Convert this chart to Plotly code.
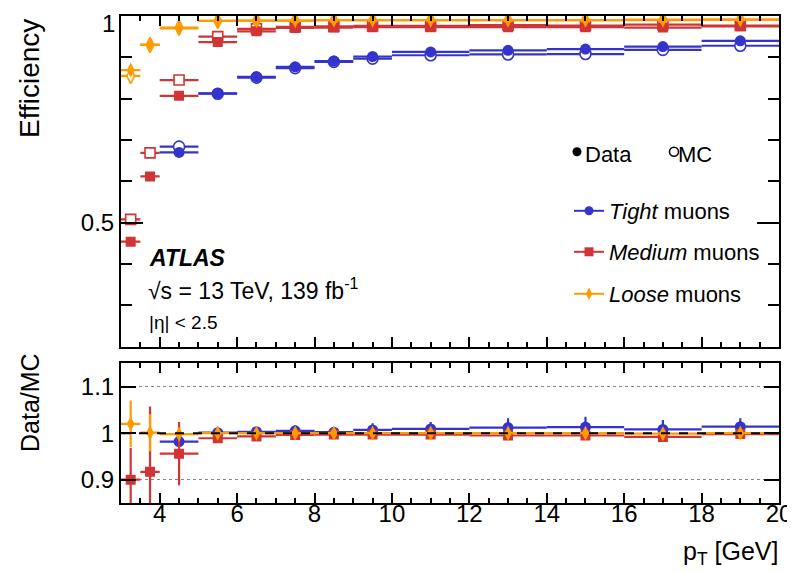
import numpy as np
import plotly.graph_objects as go

# ---------------- data ----------------
pt_lo = [3.0, 3.5, 4.0, 5.0, 6.0, 7.0, 8.0, 9.0, 10.0, 12.0, 14.0, 16.0, 18.0]
pt_hi = [3.5, 4.0, 5.0, 6.0, 7.0, 8.0, 9.0, 10.0, 12.0, 14.0, 16.0, 18.0, 20.0]

tight_data = [None, None, 0.670, 0.813, 0.853, 0.877, 0.891, 0.902, 0.913, 0.917, 0.920, 0.926, 0.940]
tight_mc = [None, None, 0.684, 0.812, 0.851, 0.874, 0.889, 0.897, 0.905, 0.907, 0.908, 0.918, 0.928]
tight_ratio = [None, None, 0.982, 1.001, 1.003, 1.005, 1.002, 1.007, 1.009, 1.012, 1.013, 1.008, 1.014]
tight_ratio_err = [None, None, 0.006, 0.004, 0.005, 0.012, 0.008, 0.014, 0.015, 0.020, 0.022, 0.020, 0.018]

medium_data = [0.454, 0.612, 0.807, 0.937, 0.963, 0.971, 0.972, 0.973, 0.973, 0.973, 0.973, 0.972, 0.975]
medium_mc = [0.508, 0.669, 0.845, 0.950, 0.969, 0.974, 0.975, 0.976, 0.976, 0.978, 0.977, 0.979, 0.977]
medium_ratio = [0.900, 0.917, 0.956, 0.989, 0.993, 0.996, 0.997, 0.997, 0.997, 0.995, 0.995, 0.992, 0.998]
medium_ratio_err = [0.068, 0.140, 0.068, 0.006, 0.005, 0.004, 0.004, 0.004, 0.004, 0.005, 0.005, 0.006, 0.005]

loose_data = [0.869, 0.931, 0.970, 0.988, 0.989, 0.989, 0.990, 0.990, 0.990, 0.990, 0.990, 0.990, 0.991]
loose_mc = [0.855, 0.930, 0.972, 0.988, 0.989, 0.989, 0.990, 0.990, 0.990, 0.990, 0.990, 0.991, 0.991]
loose_ratio = [1.020, 1.001, 0.998, 1.000, 1.000, 1.000, 1.000, 1.000, 1.000, 1.000, 1.000, 0.999, 1.000]
loose_ratio_err = [0.050, 0.040, 0.005, 0.003, 0.003, 0.003, 0.003, 0.003, 0.003, 0.003, 0.003, 0.003, 0.003]

x_ticks = [4, 6, 8, 10, 12, 14, 16, 18, 20]
eff_ticks = [0.5, 1.0]
eff_ticktext = ["0.5", ""]      # the top label "1" is drawn just inside the frame (ROOT style)
eff_top_label = "1"
ratio_ticks = [0.9, 1.0, 1.1]
ratio_ticktext = ["0.9", "1", "1.1"]

# ---------------- styles ----------------
BLUE = "#3434cc"
RED = "#d03434"
ORANGE = "#ff9a00"
FONT = "Liberation Sans, Arial, sans-serif"
LOOSE_SYM = "diamond-tall"

lo = np.array(pt_lo)
hi = np.array(pt_hi)
centers = (lo + hi) / 2
halfw = (hi - lo) / 2

fig = go.Figure()


def add_series(y, color, symbol, size, filled, xa, ya, yerr=None):
    y = [np.nan if v is None else v for v in y]
    marker = dict(symbol=symbol, size=size,
                  color=color if filled else "white",
                  line=dict(color=color, width=1.6 if not filled else 0))
    kw = dict(x=centers, y=y, mode="markers", marker=marker,
              error_x=dict(type="data", array=halfw, visible=True, color=color, thickness=2.2, width=0),
              xaxis=xa, yaxis=ya, showlegend=False, hoverinfo="skip")
    if yerr is not None:
        yerr = [np.nan if v is None else v for v in yerr]
        kw["error_y"] = dict(type="data", array=yerr, visible=True, color=color, thickness=2.2, width=0)
    fig.add_trace(go.Scatter(**kw))


# top panel: MC (open) first, then data (filled)
add_series(tight_mc, BLUE, "circle", 11, False, "x", "y")
add_series(medium_mc, RED, "square", 10, False, "x", "y")
add_series(loose_mc, ORANGE, LOOSE_SYM, 11, False, "x", "y")
add_series(tight_data, BLUE, "circle", 11, True, "x", "y")
add_series(medium_data, RED, "square", 10, True, "x", "y")
add_series(loose_data, ORANGE, LOOSE_SYM, 11, True, "x", "y")

# ratio panel
add_series(tight_ratio, BLUE, "circle", 11, True, "x2", "y2", tight_ratio_err)
add_series(medium_ratio, RED, "square", 10, True, "x2", "y2", medium_ratio_err)
add_series(loose_ratio, ORANGE, LOOSE_SYM, 11, True, "x2", "y2", loose_ratio_err)

# legend entries (Data / MC keys: symbols via legend, labels as annotations)
fig.add_trace(go.Scatter(x=[None], y=[None], mode="markers", name=" ",
                         marker=dict(symbol="circle", size=9, color="black"),
                         legend="legend", xaxis="x", yaxis="y"))
fig.add_trace(go.Scatter(x=[None], y=[None], mode="markers", name=" ",
                         marker=dict(symbol="circle", size=9, color="white", line=dict(color="black", width=1.5)),
                         legend="legend5", xaxis="x", yaxis="y"))
for name, color, sym, leg in [("<i>Tight</i> muons", BLUE, "circle", "legend2"),
                              ("<i>Medium</i> muons", RED, "square", "legend3"),
                              ("<i>Loose</i> muons", ORANGE, LOOSE_SYM, "legend4")]:
    fig.add_trace(go.Scatter(x=[None], y=[None], mode="lines+markers", name=name,
                             line=dict(color=color, width=2),
                             marker=dict(symbol=sym, size=9, color=color),
                             legend=leg, xaxis="x", yaxis="y"))

# page has an 8px body margin: figure is drawn 8px right/down
OFF = 8
W, H = 795 - OFF, 573 - OFF
PL, PR, PT, PB = 121, 779, 16, 503  # plot area in page pixels
L, R, T, B = PL - OFF, (W + OFF) - PR, PT - OFF, (H + OFF) - PB
ph = PB - PT
pw = PR - PL


def py(pix):
    return (PB - pix) / ph


def px(pix):
    return (pix - PL) / pw


axis_common = dict(showline=True, linecolor="black", linewidth=2, mirror="ticks",
                   ticks="inside", tickcolor="black", tickwidth=2, zeroline=False,
                   showgrid=False, ticklabeloverflow="allow", automargin=False,
                   tickfont=dict(family=FONT, size=24, color="black"))

leg_common = dict(font=dict(family=FONT, size=22, color="black"), bgcolor="rgba(0,0,0,0)",
                  itemwidth=30, xanchor="left", yanchor="middle", borderwidth=0)

fig.update_layout(
    width=W, height=H, margin=dict(l=L, r=R, t=T, b=B, autoexpand=False),
    paper_bgcolor="white", plot_bgcolor="white",
    font=dict(family=FONT, size=22, color="black"),
    xaxis=dict(domain=[0, 1], anchor="y", range=[3, 20], tickvals=x_ticks, showticklabels=False,
               ticklen=10, minor=dict(dtick=0.5, tick0=3, ticklen=5, ticks="inside", tickcolor="black", tickwidth=1.5),
               **axis_common),
    yaxis=dict(domain=[py(346.7), 1], anchor="x", range=[0.2, 1.0], tickvals=eff_ticks, ticktext=eff_ticktext,
               ticklen=22, minor=dict(dtick=0.1, tick0=0, ticklen=11, ticks="inside", tickcolor="black", tickwidth=1.5),
               **axis_common),
    xaxis2=dict(domain=[0, 1], anchor="y2", range=[3, 20], tickvals=x_ticks, ticktext=[str(v) for v in x_ticks],
                ticklen=10, ticklabelstandoff=-12,
                minor=dict(dtick=0.5, tick0=3, ticklen=5, ticks="inside", tickcolor="black", tickwidth=1.5),
                **axis_common),
    yaxis2=dict(domain=[0, py(363.3)], anchor="x2", range=[0.85, 1.15], tickvals=ratio_ticks,
                ticktext=ratio_ticktext, ticklen=15,
                **{k: v for k, v in axis_common.items() if k != "showgrid"},
                showgrid=True, gridcolor="#888888", griddash="dot", gridwidth=1),
    legend=dict(x=px(557), y=py(152), **leg_common),
    legend5=dict(x=px(654), y=py(152), **leg_common),
    legend2=dict(x=px(569), y=py(211), **leg_common),
    legend3=dict(x=px(569), y=py(252), **leg_common),
    legend4=dict(x=px(569), y=py(294), **leg_common),
)

# dashed line at unity in the ratio panel
fig.add_shape(type="line", xref="x2", yref="y2", x0=3, x1=20, y0=1, y1=1,
              line=dict(color="black", width=2, dash="dash"), layer="above")

ann = [
    dict(text="Data", x=px(583), y=py(155), size=22),
    dict(text="MC", x=px(676), y=py(155), size=22),
    dict(text="<b><i>ATLAS</i></b>", x=px(147), y=py(258), size=23),
    dict(text="\u221As = 13 TeV, 139 fb<sup>-1</sup>", x=px(146), y=py(289), size=23),
    dict(text="|\u03b7| < 2.5", x=px(147), y=py(322), size=19),
]
for a in ann:
    fig.add_annotation(text=a["text"], x=a["x"], y=a["y"], xref="paper", yref="paper",
                       xanchor="left", yanchor="middle", showarrow=False,
                       font=dict(family=FONT, size=a["size"], color="black"))

# top tick label of the efficiency axis, kept inside the figure
fig.add_annotation(text=eff_top_label, x=px(117), y=py(23), xref="paper", yref="paper",
                   xanchor="right", yanchor="middle", showarrow=False,
                   font=dict(family=FONT, size=24, color="black"))

fig.add_annotation(text="Efficiency", x=px(30), y=py(79), xref="paper", yref="paper",
                   xanchor="center", yanchor="middle", textangle=-90, showarrow=False,
                   font=dict(family=FONT, size=28, color="black"))
fig.add_annotation(text="Data/MC", x=px(30), y=py(403), xref="paper", yref="paper",
                   xanchor="center", yanchor="middle", textangle=-90, showarrow=False,
                   font=dict(family=FONT, size=25, color="black"))
fig.add_annotation(text="p<sub>T</sub> [GeV]", x=px(780), y=py(553), xref="paper", yref="paper",
                   xanchor="right", yanchor="middle", showarrow=False,
                   font=dict(family=FONT, size=25, color="black"))

fig.write_html("out.html")
